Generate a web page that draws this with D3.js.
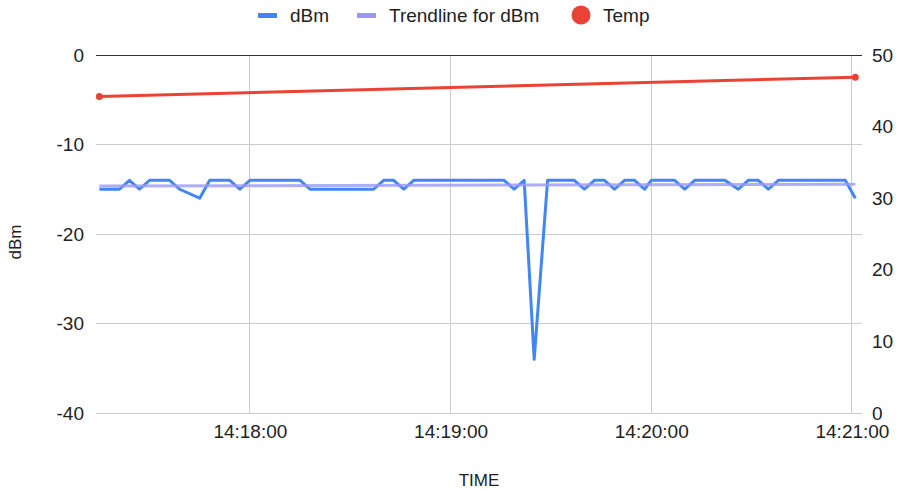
<!DOCTYPE html>
<html>
<head>
<meta charset="utf-8">
<script src="https://cdnjs.cloudflare.com/ajax/libs/d3/7.8.5/d3.min.js"></script>
<style>
  body { margin: 0; background: #fff; }
  text { font-family: "Liberation Sans", Arial, sans-serif; fill: #222; }
  .tick line, .domain { display: none; }
</style>
</head>
<body>
<div id="chart"></div>
<script>
// dBm readings (time, value)
const dbmTimes = [
  "14:17:15", "14:17:21", "14:17:24", "14:17:27", "14:17:30", "14:17:36",
  "14:17:39", "14:17:45", "14:17:48", "14:17:54", "14:17:57", "14:18:00",
  "14:18:15", "14:18:18", "14:18:37", "14:18:40", "14:18:43", "14:18:46",
  "14:18:49", "14:19:16", "14:19:19", "14:19:22", "14:19:25", "14:19:29",
  "14:19:37", "14:19:40", "14:19:43", "14:19:46", "14:19:49", "14:19:52",
  "14:19:55", "14:19:58", "14:20:00", "14:20:07", "14:20:10", "14:20:13",
  "14:20:22", "14:20:26", "14:20:29", "14:20:32", "14:20:35", "14:20:38",
  "14:20:58", "14:21:01"
];
const dbmValues = [
  -15, -15, -14, -15, -14, -14,
  -15, -16, -14, -14, -15, -14,
  -14, -15, -15, -14, -14, -15,
  -14, -14, -15, -14, -34, -14,
  -14, -15, -14, -14, -15, -14,
  -14, -15, -14, -14, -15, -14,
  -14, -15, -14, -14, -15, -14,
  -14, -16
];

const trendTimes = ["14:17:15", "14:21:01"];
const trendValues = [-14.64, -14.45];

const tempTimes = ["14:17:15", "14:21:01"];
const tempValues = [44.2, 46.9];

const xDomain = ["14:17:14", "14:21:03"];
const xTicks = ["14:18:00", "14:19:00", "14:20:00", "14:21:00"];
const leftTicks = [-40, -30, -20, -10, 0];
const rightTicks = [0, 10, 20, 30, 40, 50];

const seriesNames = ["dBm", "Trendline for dBm", "Temp"];
const colors = { dbm: "#4285f4", trend: "#9a99fb", temp: "#ea4335" };

const W = 900, H = 491;
const plot = { left: 96, right: 862, top: 55, bottom: 413 };

const parse = d3.timeParse("%H:%M:%S");
const fmt = d3.timeFormat("%H:%M:%S");

const svg = d3.select("#chart").append("svg")
  .attr("width", W)
  .attr("height", H);

const x = d3.scaleTime()
  .domain(xDomain.map(parse))
  .range([plot.left, plot.right]);

const yL = d3.scaleLinear().domain([-40, 0]).range([plot.bottom, plot.top]);
const yR = d3.scaleLinear().domain([0, 50]).range([plot.bottom, plot.top]);

// gridlines
const grid = svg.append("g");
grid.selectAll("line.h")
  .data(leftTicks)
  .enter().append("line")
    .attr("x1", plot.left).attr("x2", plot.right)
    .attr("y1", d => yL(d)).attr("y2", d => yL(d))
    .attr("stroke", d => d === 0 ? "#333" : "#ccc")
    .attr("stroke-width", 1)
    .attr("shape-rendering", "crispEdges");
grid.selectAll("line.v")
  .data(xTicks)
  .enter().append("line")
    .attr("x1", d => x(parse(d))).attr("x2", d => x(parse(d)))
    .attr("y1", plot.top).attr("y2", plot.bottom)
    .attr("stroke", "#ccc")
    .attr("stroke-width", 1)
    .attr("shape-rendering", "crispEdges");
// baseline on top again
grid.append("line")
  .attr("x1", plot.left).attr("x2", plot.right)
  .attr("y1", yL(0)).attr("y2", yL(0))
  .attr("stroke", "#333")
  .attr("shape-rendering", "crispEdges");

// axes
svg.append("g")
  .attr("transform", `translate(0, ${plot.bottom})`)
  .call(d3.axisBottom(x).tickValues(xTicks.map(parse)).tickFormat(fmt).tickSize(0).tickPadding(25))
  .call(g => g.selectAll("text").attr("font-size", 19).attr("dy", 0).attr("font-family", null));

svg.append("g")
  .attr("transform", `translate(${plot.left}, 0)`)
  .call(d3.axisLeft(yL).tickValues(leftTicks).tickFormat(d => String(d)).tickSize(0).tickPadding(12))
  .call(g => g.selectAll("text").attr("font-size", 19).attr("font-family", null));

svg.append("g")
  .attr("transform", `translate(${plot.right}, 0)`)
  .call(d3.axisRight(yR).tickValues(rightTicks).tickFormat(d => String(d)).tickSize(0).tickPadding(10))
  .call(g => g.selectAll("text").attr("font-size", 19).attr("font-family", null));

svg.selectAll(".tick text").attr("fill", "#222");

// axis titles
svg.append("text")
  .attr("x", (plot.left + plot.right) / 2)
  .attr("y", 486)
  .attr("text-anchor", "middle")
  .attr("font-size", 17)
  .text("TIME");

svg.append("text")
  .attr("transform", "translate(21, 242) rotate(-90)")
  .attr("text-anchor", "middle")
  .attr("font-size", 17)
  .text("dBm");

// series
const dbmData = dbmTimes.map((t, i) => ({ t: parse(t), v: dbmValues[i] }));
const trendData = trendTimes.map((t, i) => ({ t: parse(t), v: trendValues[i] }));
const tempData = tempTimes.map((t, i) => ({ t: parse(t), v: tempValues[i] }));

const lineL = d3.line().x(d => x(d.t)).y(d => yL(d.v));
const lineR = d3.line().x(d => x(d.t)).y(d => yR(d.v));

svg.append("path")
  .datum(dbmData)
  .attr("d", lineL)
  .attr("fill", "none")
  .attr("stroke", colors.dbm)
  .attr("stroke-width", 3)
  .attr("stroke-linejoin", "round");

svg.append("path")
  .datum(trendData)
  .attr("d", lineL)
  .attr("fill", "none")
  .attr("stroke", colors.trend)
  .attr("stroke-opacity", 0.8)
  .attr("stroke-width", 3);

svg.append("path")
  .datum(tempData)
  .attr("d", lineR)
  .attr("fill", "none")
  .attr("stroke", colors.temp)
  .attr("stroke-width", 3);

svg.selectAll("circle.temp")
  .data(tempData)
  .enter().append("circle")
    .attr("cx", d => x(d.t))
    .attr("cy", d => yR(d.v))
    .attr("r", 3.5)
    .attr("fill", colors.temp);

// legend
const legend = svg.append("g").attr("class", "legend");
const legendItems = [
  { name: seriesNames[0], type: "line", color: colors.dbm, x: 258 },
  { name: seriesNames[1], type: "line", color: colors.trend, x: 357 },
  { name: seriesNames[2], type: "dot", color: colors.temp, x: 571 }
];
legendItems.forEach(d => {
  if (d.type === "line") {
    legend.append("rect")
      .attr("x", d.x).attr("y", 13)
      .attr("width", 19).attr("height", 5)
      .attr("fill", d.color);
  } else {
    legend.append("circle")
      .attr("cx", d.x + 10).attr("cy", 15)
      .attr("r", 9.5)
      .attr("fill", d.color);
  }
  legend.append("text")
    .attr("x", d.x + 32).attr("y", 22)
    .attr("font-size", 19)
    .text(d.name);
});
</script>
</body>
</html>
